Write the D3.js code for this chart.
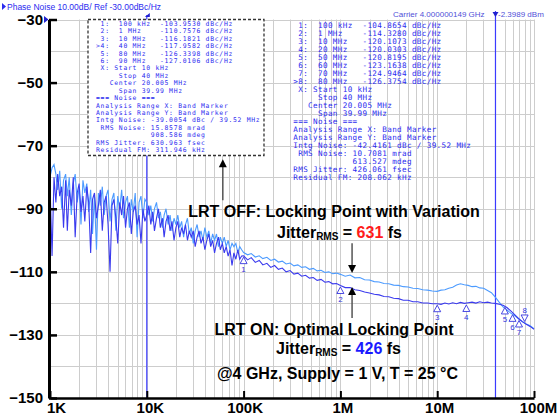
<!DOCTYPE html>
<html>
<head>
<meta charset="utf-8">
<script src="https://cdn.jsdelivr.net/npm/d3@7"></script>
<style>
  body { margin: 0; background: #fff; }
  svg { display: block; font-family: "Liberation Sans", Arial, sans-serif; }
  .mono { font-family: "DejaVu Sans Mono", monospace; white-space: pre; }
  .axis text { font-family: "Liberation Sans", Arial, sans-serif; font-weight: bold; font-size: 15px; fill: #000; }
</style>
</head>
<body>
<svg id="chart" width="557" height="420"></svg>
<script>
// offset frequency in kHz (shared by both traces)
const freqKHz = [
  1.00, 1.05, 1.10, 1.15, 1.20, 1.26, 1.32, 1.38, 1.45, 1.51, 1.58, 1.66, 1.74, 1.82, 1.91, 2.00, 2.09, 2.19, 2.29, 2.40,
  2.51, 2.63, 2.75, 2.88, 3.02, 3.16, 3.31, 3.47, 3.63, 3.80, 3.98, 4.17, 4.37, 4.57, 4.79, 5.01, 5.25, 5.50, 5.75, 6.03,
  6.31, 6.61, 6.92, 7.24, 7.59, 7.94, 8.32, 8.71, 9.12, 9.55,
  10.0, 10.5, 11.0, 11.5, 12.0, 12.6, 13.2, 13.8, 14.5, 15.1, 15.8, 16.6, 17.4, 18.2, 19.1, 20.0, 20.9, 21.9, 22.9, 24.0,
  25.1, 26.3, 27.5, 28.8, 30.2, 31.6, 33.1, 34.7, 36.3, 38.0, 39.8, 41.7, 43.7, 45.7, 47.9, 50.1, 52.5, 55.0, 57.5, 60.3,
  63.1, 66.1, 69.2, 72.4, 75.9, 79.4, 83.2, 87.1, 91.2, 95.5,
  100, 110, 120, 132, 145, 158, 174, 191, 209, 229, 251, 275, 302, 331, 363, 398, 437, 479, 525, 575, 631, 692, 759, 832, 912,
  1000, 1122, 1259, 1413, 1585, 1778, 1995, 2239, 2512, 2818, 3162, 3548, 3981, 4467, 5012, 5623, 6310, 7079, 7943, 8913,
  10000, 10960, 12020, 13180, 14450, 15850, 17380, 19050, 20890, 22910, 25120, 27540, 30200, 33110, 36310, 39810,
  43650, 47860, 52480, 57540, 63100, 69180, 75860, 83180, 91200, 100000
];

// LRT OFF trace (light blue), dBc/Hz
const lrtOff = [
  -80, -77, -76, -79, -84, -78, -90, -81, -79, -86, -80, -92, -82, -79, -88, -83, -95, -81, -85, -82,
  -91, -84, -98, -86, -103, -85, -89, -83, -92, -86, -84, -94, -87, -85, -97, -86, -90, -84, -93, -88,
  -86, -96, -87, -91, -85, -99, -88, -86, -93, -87,
  -88, -92, -89, -94, -90, -88, -93, -91, -96, -92, -90, -95, -92, -97, -93, -95, -92, -96, -94, -99,
  -95, -93, -98, -96, -101, -97, -95, -99, -97, -100, -96, -99, -97, -101, -98, -100, -98, -102, -99, -101,
  -99, -102, -100, -103, -101, -102, -101, -104, -102, -103,
  -103.9, -104.6, -104.2, -105.3, -104.9, -105.8, -105.4, -106.4, -106.0, -106.9, -106.6, -107.5, -107.2, -108.1, -107.8,
  -108.6, -108.4, -109.2, -108.9, -109.7, -109.5, -110.2, -110.0, -110.6, -110.4,
  -110.8, -111.4, -111.0, -111.9, -111.8, -112.5, -112.6, -113.1, -113.2, -113.7, -113.8, -114.2, -114.3, -114.7, -114.8,
  -115.2, -115.3, -115.7, -115.8, -116.1,
  -116.2, -115.8, -115.7, -115.2, -114.9, -114.2, -113.8, -114.1, -114.3, -114.7, -114.6, -115.1, -115.2, -115.9, -116.6,
  -118.0, -119.6, -121.1, -122.1, -123.1, -123.9, -124.9, -125.8, -126.5, -127.1, -128.0
];

// LRT ON trace (dark blue), dBc/Hz
const lrtOn = [
  -82, -105, -80, -88, -79, -86, -83, -96, -81, -97, -84, -89, -80, -99, -85, -82, -91, -86, -94, -83,
  -88, -104, -87, -85, -93, -89, -84, -97, -88, -86, -95, -110, -89, -87, -93, -101, -88, -92, -86, -96,
  -90, -88, -98, -91, -89, -95, -92, -101, -90, -94,
  -92, -89, -95, -91, -97, -93, -90, -96, -93, -99, -94, -92, -97, -94, -100, -96, -94, -99, -96, -98,
  -95, -100, -97, -99, -97, -102, -99, -97, -101, -99, -103, -100, -98, -102, -100, -104, -101, -99, -103, -101,
  -104, -102, -105, -103, -108, -104, -106, -103, -106, -105,
  -104.9, -106.2, -105.5, -107.0, -106.4, -107.8, -107.3, -108.6, -108.0, -109.2, -108.8, -110.0, -109.6, -110.7, -110.4,
  -111.4, -111.1, -112.0, -111.8, -112.7, -112.4, -113.3, -113.1, -113.8, -113.7,
  -114.3, -115.0, -115.0, -115.7, -115.9, -116.4, -116.7, -117.1, -117.3, -117.8, -117.9, -118.4, -118.5, -119.0, -119.0,
  -119.5, -119.5, -119.9, -119.9, -120.1,
  -120.1, -120.3, -119.9, -120.2, -119.8, -120.1, -119.7, -120.0, -119.8, -119.6, -119.9, -119.5, -119.8, -119.6, -119.9,
  -120.0, -120.3, -120.6, -121.3, -122.4, -123.6, -124.8, -125.8, -126.6, -127.3, -128.2
];

// marker readouts
const offMarkFreq = ["100 kHz", "1 MHz", "10 MHz", "40 MHz", "80 MHz", "90 MHz"];
const offMarkDb = [-103.9530, -110.7576, -116.1821, -117.9582, -126.3398, -127.0106];
const onMarkHz = [1e5, 1e6, 1e7, 2e7, 5e7, 6e7, 7e7, 8e7];
const onMarkFreq = ["100 kHz", "1 MHz", "10 MHz", "20 MHz", "50 MHz", "60 MHz", "70 MHz", "80 MHz"];
const onMarkDb = [-104.8654, -114.3280, -120.1073, -120.0303, -120.8195, -123.1638, -124.9464, -126.3754];

const offNoise = [
  " X: Start 10 kHz", "     Stop 40 MHz", "   Center 20.005 MHz", "     Span 39.99 MHz", "=== Noise ===",
  "Analysis Range X: Band Marker", "Analysis Range Y: Band Marker", "Intg Noise: -39.0054 dBc / 39.52 MHz",
  " RMS Noise: 15.8578 mrad", "            908.586 mdeg", "RMS Jitter: 630.963 fsec", "Residual FM: 311.946 kHz"
];
const onNoise = [
  " X: Start 10 kHz", "     Stop 40 MHz", "   Center 20.005 MHz", "     Span 39.99 MHz", "=== Noise ===",
  "Analysis Range X: Band Marker", "Analysis Range Y: Band Marker", "Intg Noise: -42.4161 dBc / 39.52 MHz",
  " RMS Noise: 10.7081 mrad", "            613.527 mdeg", "RMS Jitter: 426.061 fsec", "Residual FM: 208.062 kHz"
];

const yTicks = [-30, -50, -70, -90, -110, -130, -150];
const xTicks = [1e3, 1e4, 1e5, 1e6, 1e7, 1e8];
const xTickLabels = ["1K", "10K", "100K", "1M", "10M", "100M"];

const svg = d3.select("#chart");
const x = d3.scaleLog().domain([1e3, 1e8]).range([50, 534]);
const y = d3.scaleLinear().domain([-150, -30]).range([398, 19.5]);

const blue = "#2b2bef";

// grid
const gridF = [];
[1e3, 1e4, 1e5, 1e6, 1e7].forEach((d) => { for (let m = 1; m < 10; m++) gridF.push(m * d); });
gridF.push(1e8);
const grid = svg.append("g").attr("stroke", "#cdcdcd").attr("stroke-width", 1);
grid.selectAll("line.v").data(gridF).join("line")
  .attr("x1", (d) => Math.round(x(d)) + 0.5).attr("x2", (d) => Math.round(x(d)) + 0.5)
  .attr("y1", y(-30)).attr("y2", y(-150));
grid.selectAll("line.h").data(d3.range(-140, -20, 10)).join("line")
  .attr("x1", x(1e3)).attr("x2", x(1e8))
  .attr("y1", (d) => Math.round(y(d)) + 0.5).attr("y2", (d) => Math.round(y(d)) + 0.5);

// band marker lines
svg.append("line").attr("x1", x(1e4)).attr("x2", x(1e4)).attr("y1", 15).attr("y2", y(-150))
  .attr("stroke", "#3b3bff").attr("stroke-width", 1.2);
svg.append("line").attr("x1", x(4e7)).attr("x2", x(4e7)).attr("y1", 11).attr("y2", y(-150))
  .attr("stroke", "#3b3bff").attr("stroke-width", 1.2);

// traces
const line = d3.line().x((d) => x(d.f)).y((d) => y(d.v));
const offData = freqKHz.map((f, i) => ({ f: f * 1000, v: lrtOff[i] }));
const onData = freqKHz.map((f, i) => ({ f: f * 1000, v: lrtOn[i] }));
svg.append("path").datum(offData).attr("d", line)
  .attr("fill", "none").attr("stroke", "#4c9bff").attr("stroke-width", 1.1);
svg.append("path").datum(onData).attr("d", line)
  .attr("fill", "none").attr("stroke", "#3a3aee").attr("stroke-width", 1.1);

// markers on LRT ON trace
const mk = svg.append("g").attr("stroke", "#3535e0").attr("fill", "#fff").attr("stroke-width", 0.9);
onMarkHz.forEach((f, i) => {
  const px = x(f), py = y(onMarkDb[i]);
  const up = i < 7;
  const p = up
    ? `M${px},${py + 1.5}L${px - 3.5},${py + 8}L${px + 3.5},${py + 8}Z`
    : `M${px},${py - 2}L${px - 3.5},${py - 8.5}L${px + 3.5},${py - 8.5}Z`;
  mk.append("path").attr("d", p);
  svg.append("text").attr("x", px).attr("y", up ? py + 16.5 : py - 10)
    .attr("text-anchor", "middle").attr("font-size", 8).attr("fill", "#3535e0").text(i + 1);
});

// axes
const yAxis = svg.append("g").attr("class", "axis").attr("transform", "translate(49,0)")
  .call(d3.axisLeft(y).tickValues(yTicks).tickSize(-8).tickSizeOuter(0).tickPadding(6));
yAxis.select(".domain").attr("stroke", "#000").attr("stroke-width", 3);
yAxis.selectAll(".tick line").attr("stroke", "#000").attr("stroke-width", 2.5);

const xAxis = svg.append("g").attr("class", "axis").attr("transform", `translate(0,${y(-150)})`)
  .call(d3.axisBottom(x).tickValues(xTicks).tickSize(-7).tickSizeOuter(0).tickPadding(4)
    .tickFormat((d, i) => xTickLabels[i]));
xAxis.select(".domain").attr("stroke", "#000").attr("stroke-width", 2.5);
xAxis.selectAll(".tick line").attr("stroke", "#000").attr("stroke-width", 2);
const xLabelShift = [6, 3, 1, 2, 2, 4];
xAxis.selectAll(".tick text").attr("dx", (d, i) => xLabelShift[i]);

// header texts
svg.append("path").attr("d", "M2,3L6,6.5L2,10Z").attr("fill", blue);
svg.append("text").attr("x", 7).attr("y", 10).attr("font-size", 8.5).attr("fill", blue)
  .text("Phase Noise 10.00dB/ Ref -30.00dBc/Hz");
svg.append("text").attr("x", 393).attr("y", 17).attr("font-size", 8).attr("fill", "#5050d8")
  .text("Carrier 4.000000149 GHz");
svg.append("text").attr("x", 498).attr("y", 17).attr("font-size", 8).attr("fill", "#5050d8")
  .text("-2.3989 dBm");
svg.append("path").attr("d", `M${x(4e7) - 3},12L${x(4e7) + 3},12L${x(4e7)},17Z`).attr("fill", "#2020d0");
svg.append("path").attr("d", `M${x(1e4) - 2},17L${x(1e4) + 3},17L${x(1e4) + 3},13Z`).attr("fill", "#2020d0");
svg.append("path").attr("d", `M44,16L48.5,19.5L44,23Z`).attr("fill", "#2020d0");

// readout box 1 (LRT OFF)
svg.append("rect").attr("x", 88).attr("y", 19.5).attr("width", 176).attr("height", 136)
  .attr("fill", "#fff").attr("stroke", "#333").attr("stroke-width", 1.3).attr("stroke-dasharray", "3,2");
const box1 = offMarkFreq.map((f, i) =>
  (i === 3 ? ">" : " ") + (i + 1) + ":  " + f.padEnd(9) + offMarkDb[i].toFixed(4) + " dBc/Hz").concat(offNoise);
svg.append("g").selectAll("text").data(box1).join("text").attr("class", "mono")
  .attr("x", 96).attr("y", (d, i) => 26 + i * 7.41).attr("font-size", 6.4)
  .attr("letter-spacing", 0.72).attr("fill", blue).text((d) => d);

// readout box 2 (LRT ON)
const box2 = onMarkFreq.map((f, i) =>
  (i === 7 ? ">" : " ") + (i + 1) + ":  " + f.padEnd(9) + onMarkDb[i].toFixed(4) + " dBc/Hz").concat(onNoise);
svg.append("g").selectAll("text").data(box2).join("text").attr("class", "mono")
  .attr("x", 293.3).attr("y", (d, i) => 28 + i * 7.98).attr("font-size", 7.6)
  .attr("letter-spacing", 0.37).attr("fill", blue).text((d) => d);

// arrows
function arrow(f, dbFrom, dbTo) {
  const ax = x(f), y0 = y(dbFrom), y1 = y(dbTo);
  const dir = y1 > y0 ? 1 : -1;
  svg.append("line").attr("x1", ax).attr("x2", ax).attr("y1", y0).attr("y2", y1 - dir * 7)
    .attr("stroke", "#555").attr("stroke-width", 1.5);
  svg.append("path").attr("d", `M${ax},${y1}L${ax - 4},${y1 - dir * 8}L${ax + 4},${y1 - dir * 8}Z`).attr("fill", "#000");
}
arrow(6.1e4, -87.3, -74.3);
arrow(1.32e6, -100.9, -110.4);
arrow(1.32e6, -124.6, -114.8);

// annotations
const ann = svg.append("g").attr("font-weight", "bold").attr("font-size", 16).attr("text-anchor", "middle");
ann.append("text").attr("x", 334).attr("y", 217).text("LRT OFF: Locking Point with Variation");
const j1 = ann.append("text").attr("x", 339.5).attr("y", 237.5);
j1.append("tspan").text("Jitter");
j1.append("tspan").attr("font-size", 10).attr("dy", 2).text("RMS");
j1.append("tspan").attr("dy", -2).text(" = ");
j1.append("tspan").attr("fill", "#ff1a1a").text("631");
j1.append("tspan").text(" fs");
ann.append("text").attr("x", 334).attr("y", 335).text("LRT ON: Optimal Locking Point");
const j2 = ann.append("text").attr("x", 338.5).attr("y", 353.5);
j2.append("tspan").text("Jitter");
j2.append("tspan").attr("font-size", 10).attr("dy", 2).text("RMS");
j2.append("tspan").attr("dy", -2).text(" = ");
j2.append("tspan").attr("fill", "#1a1aff").text("426");
j2.append("tspan").text(" fs");
ann.append("text").attr("x", 337.5).attr("y", 379).text("@4 GHz, Supply = 1 V, T = 25 °C");
</script>
</body>
</html>
